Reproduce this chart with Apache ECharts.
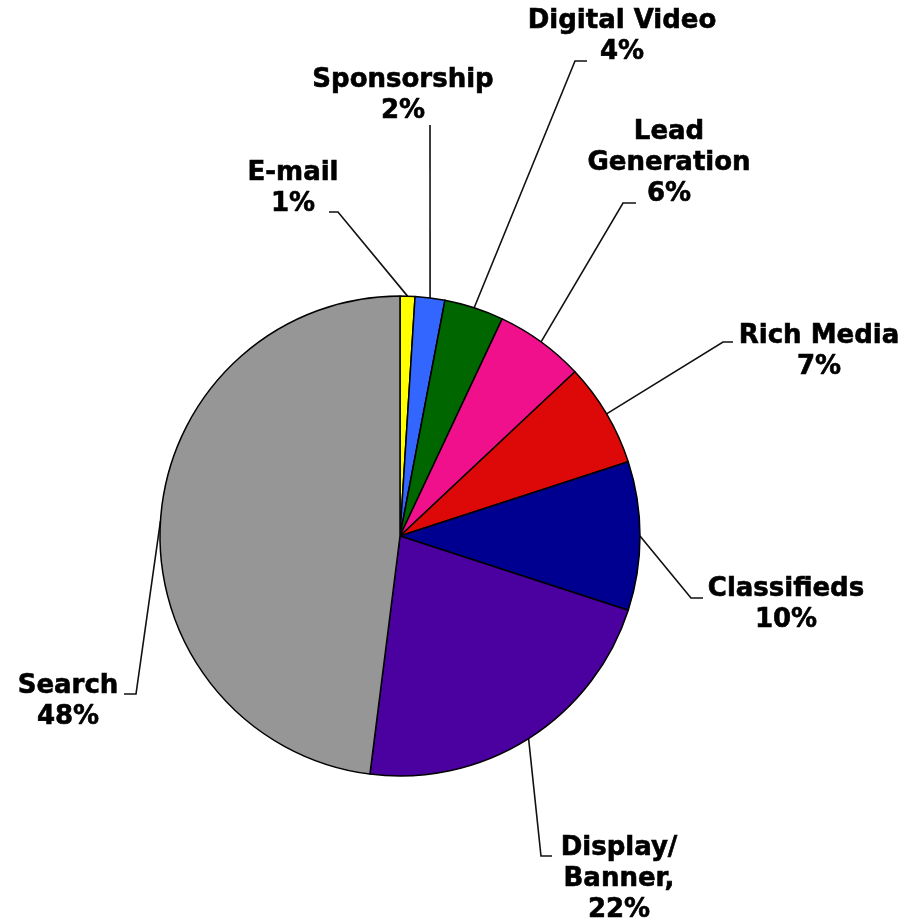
<!DOCTYPE html>
<html>
<head>
<meta charset="utf-8">
<script src="https://cdn.jsdelivr.net/npm/echarts@6/dist/echarts.min.js"></script>
<style>
html,body{margin:0;padding:0;background:#fff;}
#chart{width:913px;height:924px;}
</style>
</head>
<body>
<div id="chart"></div>
<script>
// Data
var categories = ['E-mail', 'Sponsorship', 'Digital Video', 'Lead Generation', 'Rich Media', 'Classifieds', 'Display/Banner', 'Search'];
var values = [1, 2, 4, 6, 7, 10, 22, 48];
var labelTexts = ['E-mail\n1%', 'Sponsorship\n2%', 'Digital Video\n4%', 'Lead\nGeneration\n6%', 'Rich Media\n7%', 'Classifieds\n10%', 'Display/\nBanner,\n22%', 'Search\n48%'];
var colors = ['#FFFF00', '#3366FF', '#006600', '#F0108C', '#DD0808', '#000090', '#4B00A0', '#969696'];

// Label layout (label centre x, label top y, line end x, line end y, elbow x)
var labelLayouts = [
  [293, 158, 329, 212, 338],
  [403, 65, 430, 125, 430],
  [622, 6, 587, 61, 575],
  [669, 117, 636, 203, 623],
  [819, 321, 733, 342, 723],
  [786, 574, 703, 598, 691],
  [619, 833, 552, 856, 541],
  [68, 671, 124, 694, 136]
];

var chart = echarts.init(document.getElementById('chart'), null, {renderer: 'canvas'});
var data = categories.map(function (c, i) {
  return {name: c, value: values[i], itemStyle: {color: colors[i]}};
});

chart.setOption({
  animation: false,
  backgroundColor: '#ffffff',
  series: [{
    type: 'pie',
    center: [400, 536],
    radius: 240,
    startAngle: 90,
    clockwise: true,
    avoidLabelOverlap: false,
    data: data,
    itemStyle: {borderColor: '#000', borderWidth: 1.5},
    label: {
      show: true,
      formatter: function (p) { return labelTexts[p.dataIndex]; },
      fontFamily: 'DejaVu Sans, Verdana, sans-serif',
      fontWeight: 'bold',
      fontSize: 26,
      lineHeight: 31,
      color: '#000',
      textBorderColor: '#000',
      textBorderWidth: 0.6,
      align: 'center'
    },
    labelLine: {
      show: true,
      length: 20,
      length2: 10,
      lineStyle: {color: '#111', width: 1.6}
    },
    labelLayout: function (params) {
      var L = labelLayouts[params.dataIndex];
      var p0 = params.labelLinePoints ? params.labelLinePoints[0] : [L[4], L[3]];
      return {
        x: L[0],
        y: L[1],
        align: 'center',
        verticalAlign: 'top',
        labelLinePoints: [p0, [L[4], L[3]], [L[2], L[3]]]
      };
    }
  }]
});
</script>
</body>
</html>
